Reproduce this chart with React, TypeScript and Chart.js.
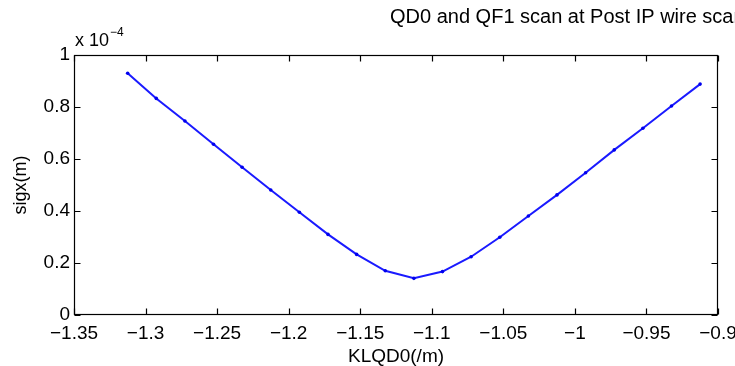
import React, { useEffect, useRef } from "react";
import { Chart, registerables } from "chart.js";

Chart.register(...registerables);

// KLQD0 (1/m) scan points
const klqd0 = [
  -1.3125, -1.2925, -1.2725, -1.2525, -1.2325, -1.2125, -1.1925, -1.1725, -1.1525, -1.1325,
  -1.1125, -1.0925, -1.0725, -1.0525, -1.0325, -1.0125, -0.9925, -0.9725, -0.9525, -0.9325,
  -0.9125,
];
// sigx in units of 1e-4 m
const sigx = [
  0.93, 0.833, 0.746, 0.657, 0.568, 0.481, 0.395, 0.31, 0.233, 0.17,
  0.141, 0.167, 0.224, 0.299, 0.381, 0.462, 0.547, 0.635, 0.718, 0.804,
  0.888,
];
const xTicks = [-1.35, -1.3, -1.25, -1.2, -1.15, -1.1, -1.05, -1.0, -0.95, -0.9];
const xTickLabels = ["\u22121.35", "\u22121.3", "\u22121.25", "\u22121.2", "\u22121.15", "\u22121.1", "\u22121.05", "\u22121", "\u22120.95", "\u22120.9"];
const yTicks = [0, 0.2, 0.4, 0.6, 0.8, 1];
const yTickLabels = ["0", "0.2", "0.4", "0.6", "0.8", "1"];
const titleText = "QD0 and QF1 scan at Post IP wire scanner";
const xTitle = "KLQD0(/m)";
const yTitle = "sigx(m)";
const expBase = "x 10";
const expPow = "\u22124";

const FONT = "'Liberation Sans', Arial, Helvetica, sans-serif";

const framePlugin = {
  id: "matlabFrame",
  beforeDraw(chart: any) {
    const { ctx, width, height } = chart;
    ctx.save();
    ctx.fillStyle = "#ffffff";
    ctx.fillRect(0, 0, width, height);
    ctx.restore();
  },
  afterDraw(chart: any) {
    const { ctx, chartArea } = chart;
    const { left, right, top, bottom } = chartArea;
    const xs = chart.scales.x;
    const ys = chart.scales.y;
    ctx.save();
    ctx.strokeStyle = "#000";
    ctx.lineWidth = 1.2;
    const L = Math.round(left) + 0.5;
    const R = Math.round(right) - 0.5;
    const T = Math.round(top) + 0.5;
    const B = Math.round(bottom) - 0.5;
    ctx.strokeRect(L, T, R - L, B - T);
    const tl = 6;
    ctx.beginPath();
    xTicks.forEach((v) => {
      const px = Math.round(xs.getPixelForValue(v)) + 0.5;
      ctx.moveTo(px, B);
      ctx.lineTo(px, B - tl);
      ctx.moveTo(px, T);
      ctx.lineTo(px, T + tl);
    });
    yTicks.forEach((v) => {
      const py = Math.round(ys.getPixelForValue(v)) + 0.5;
      ctx.moveTo(L, py);
      ctx.lineTo(L + tl, py);
      ctx.moveTo(R, py);
      ctx.lineTo(R - tl, py);
    });
    ctx.stroke();

    ctx.fillStyle = "#000";
    ctx.textBaseline = "alphabetic";
    ctx.textAlign = "left";
    ctx.font = `20px ${FONT}`;
    ctx.fillText(titleText, 390, 23);

    ctx.font = `18px ${FONT}`;
    ctx.fillText(expBase, 75, 46);
    const w = ctx.measureText(expBase).width;
    ctx.font = `12px ${FONT}`;
    ctx.fillText(expPow, 75 + w + 1, 36);
    ctx.restore();
  },
};

export default function App() {
  const ref = useRef<HTMLCanvasElement | null>(null);

  useEffect(() => {
    if (!ref.current) return;
    const chart = new Chart(ref.current, {
      type: "line",
      data: {
        datasets: [
          {
            data: klqd0.map((x, i) => ({ x, y: sigx[i] })),
            borderColor: "#1a1aff",
            backgroundColor: "#0000ff",
            borderWidth: 2,
            pointRadius: 1.8,
            pointBorderWidth: 0,
            pointBackgroundColor: "#0000ee",
            tension: 0,
          },
        ],
      },
      options: {
        responsive: false,
        animation: false,
        events: [],
        layout: { padding: { top: 55, right: 17, bottom: 0, left: 0 } },
        plugins: {
          legend: { display: false },
          tooltip: { enabled: false },
          title: { display: false },
        },
        scales: {
          x: {
            type: "linear",
            min: -1.35,
            max: -0.9,
            grid: { display: false, drawTicks: false },
            border: { display: false },
            afterBuildTicks: (scale: any) => {
              scale.ticks = xTicks.map((v) => ({ value: v }));
            },
            afterFit: (scale: any) => {
              scale.height = 51;
              scale.paddingLeft = 0;
              scale.paddingRight = 0;
            },
            ticks: {
              autoSkip: false,
              maxRotation: 0,
              minRotation: 0,
              padding: 7,
              color: "#000",
              font: { family: FONT, size: 19 },
              callback: (_v: any, i: number) => xTickLabels[i],
            },
            title: {
              display: true,
              text: xTitle,
              color: "#000",
              font: { family: FONT, size: 19, lineHeight: 1 },
              padding: { top: 0, bottom: 0 },
            },
          },
          y: {
            type: "linear",
            min: 0,
            max: 1,
            grid: { display: false, drawTicks: false },
            border: { display: false },
            afterBuildTicks: (scale: any) => {
              scale.ticks = yTicks.map((v) => ({ value: v }));
            },
            afterFit: (scale: any) => {
              scale.width = 74;
              scale.paddingTop = 0;
              scale.paddingBottom = 0;
            },
            ticks: {
              padding: 4,
              color: "#000",
              font: { family: FONT, size: 19 },
              callback: (_v: any, i: number) => yTickLabels[i],
            },
            title: {
              display: true,
              text: yTitle,
              color: "#000",
              font: { family: FONT, size: 18, lineHeight: 1 },
              padding: { top: 12, bottom: 0 },
            },
          },
        },
      },
      plugins: [framePlugin],
    });
    return () => chart.destroy();
  }, []);

  return (
    <div style={{ position: "fixed", left: 0, top: 0, width: 735, height: 366, background: "#fff" }}>
      <canvas ref={ref} width={735} height={366} style={{ display: "block" }} />
    </div>
  );
}
